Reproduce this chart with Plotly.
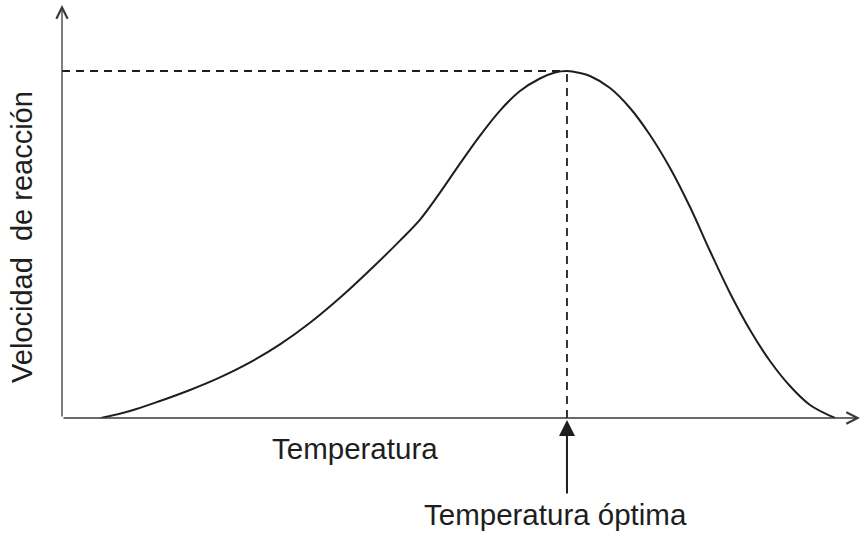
import plotly.graph_objects as go

# Curve (temperature in arbitrary units, rate in % of max)
temperatura = [4.88, 8.51, 12.27, 16.02, 19.77, 23.53, 27.28, 31.04, 34.79, 38.55,
               42.30, 44.81, 47.31, 49.81, 52.32, 54.82, 57.32, 59.82, 61.70, 63.20,
               64.83, 66.08, 68.59, 71.09, 73.59, 76.10, 78.60, 81.10, 83.60, 86.11,
               88.61, 91.11, 93.62, 96.75]
velocidad = [0, 2.02, 4.90, 8.07, 11.70, 16.02, 21.21, 27.44, 34.64, 42.65,
             51.12, 57.18, 64.96, 73.31, 81.38, 88.59, 94.24, 97.84, 99.57, 100,
             99.42, 98.56, 95.10, 89.34, 81.56, 72.05, 60.81, 48.13, 36.02, 25.36,
             16.43, 9.22, 3.75, 0]

t_optima = 63.2
v_max = 100

x_label = "Temperatura"
y_label = "Velocidad  de reacción"
opt_label = "Temperatura óptima"

INK = "#1e1e1e"
AX = "#3a3a3a"
FONT = "Liberation Sans, Arial, Helvetica, sans-serif"

fig = go.Figure()

# dashed guides
fig.add_trace(go.Scatter(x=[0, t_optima], y=[v_max, v_max], mode="lines",
                         line=dict(color=INK, width=1.8, dash="8px,6px"),
                         hoverinfo="skip", showlegend=False, cliponaxis=False))
fig.add_trace(go.Scatter(x=[t_optima, t_optima], y=[0, v_max], mode="lines",
                         line=dict(color=INK, width=1.8, dash="8px,6px"),
                         hoverinfo="skip", showlegend=False, cliponaxis=False))

# main curve
fig.add_trace(go.Scatter(x=temperatura, y=velocidad, mode="lines",
                         line=dict(color=INK, width=2, shape="spline", smoothing=1.0),
                         showlegend=False, cliponaxis=False))

annotations = [
    # y axis with open arrow
    dict(x=0, y=0.988, xref="paper", yref="paper", ax=0, ay=413,
         text="", showarrow=True, arrowhead=5, arrowsize=1.7, arrowwidth=1.3,
         arrowcolor=AX, standoff=0),
    # x axis with open arrow (mostly cut at the right edge)
    dict(x=1.03, y=0, xref="paper", yref="paper", ax=-823, ay=0,
         text="", showarrow=True, arrowhead=5, arrowsize=1.7, arrowwidth=1.3,
         arrowcolor=AX, standoff=0),
    # pointer arrow to optimum temperature
    dict(x=t_optima, y=-0.005, xref="x", yref="paper", ax=0, ay=75,
         text="", showarrow=True, arrowhead=2, arrowsize=1.6, arrowwidth=2,
         arrowcolor=INK, standoff=0),
    dict(x=0.3667, y=-0.0718, xref="paper", yref="paper", text=x_label, showarrow=False,
         xanchor="center", yanchor="middle", font=dict(size=29.5, color=INK, family=FONT)),
    dict(x=0.618, y=-0.2297, xref="paper", yref="paper", text=opt_label, showarrow=False,
         xanchor="center", yanchor="middle", font=dict(size=29.5, color=INK, family=FONT)),
    dict(x=-0.0501, y=0.433, xref="paper", yref="paper", text=y_label, showarrow=False,
         textangle=-90, xanchor="center", yanchor="middle",
         font=dict(size=29, color=INK, family=FONT)),
]

fig.update_layout(
    width=861, height=533,
    margin=dict(l=62, r=0, t=0, b=115),
    paper_bgcolor="white", plot_bgcolor="white",
    xaxis=dict(range=[0, 100], visible=False, fixedrange=True),
    yaxis=dict(range=[0, 120.46], visible=False, fixedrange=True),
    annotations=annotations,
    showlegend=False,
)

fig.write_html("out.html", config={"displayModeBar": False},
               post_script="document.body.style.margin='0';")
